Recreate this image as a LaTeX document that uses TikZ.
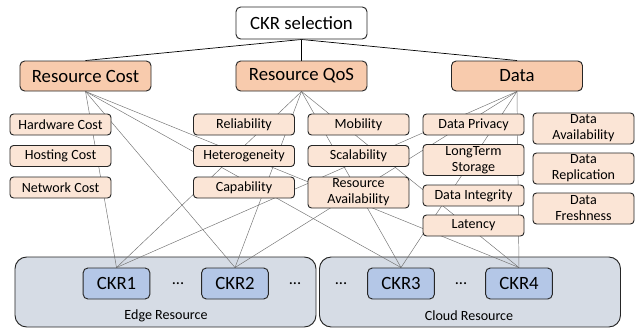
\documentclass[tikz,border=0pt]{standalone}
\usepackage{fontspec}
\setmainfont{Carlito}

\pgfdeclarelayer{back}
\pgfdeclarelayer{wires}
\pgfsetlayers{back,wires,main}

\definecolor{catfill}{RGB}{248,203,173}
\definecolor{subfill}{RGB}{251,229,214}
\definecolor{resfill}{RGB}{214,220,229}
\definecolor{ckrfill}{RGB}{180,199,231}

\tikzset{
  selbox/.style={draw=black!85, line width=0.8pt, fill=white, rounded corners=4pt, minimum width=3.93cm, minimum height=0.96cm, inner sep=0pt, font=\fontsize{16}{18}\selectfont},
  catbox/.style={draw=black!85, line width=0.8pt, fill=catfill, rounded corners=4pt, minimum width=3.93cm, minimum height=0.9cm, inner sep=0pt, font=\fontsize{16}{18}\selectfont},
  subbox/.style={draw=black!85, line width=0.8pt, fill=subfill, rounded corners=3pt, minimum width=3.03cm, minimum height=0.63cm, inner sep=0pt, align=center, font=\fontsize{12}{13.6}\selectfont},
  tallbox/.style={subbox, minimum height=0.93cm},
  resbox/.style={draw=black!85, line width=0.8pt, fill=resfill, rounded corners=10pt, minimum width=9.03cm, minimum height=2.1cm, inner sep=0pt},
  ckrbox/.style={draw=black!85, line width=0.8pt, fill=ckrfill, rounded corners=4pt, minimum width=2.0cm, minimum height=0.93cm, inner sep=0pt, font=\fontsize{16}{18}\selectfont},
  wire/.style={draw=black!55, line width=0.4pt},
  topwire/.style={draw=black, line width=0.6pt}
}

\begin{document}
\begin{tikzpicture}[x=0.03cm, y=-0.03cm]
  \useasboundingbox (0,0) rectangle (639,332);

  % Root and the three criteria groups
  \node[selbox] (sel) at (301.5,23) {CKR selection};
  \node[catbox] (cost) at (85.5,76) {Resource Cost};
  \node[catbox] (qos) at (301.5,76) {Resource QoS};
  \node[catbox] (data) at (517,76) {Data};

  % Cost criteria
  \node[subbox] (hw) at (60.5,124.5) {Hardware Cost};
  \node[subbox] (host) at (60.5,156) {Hosting Cost};
  \node[subbox] (net) at (60.5,187.5) {Network Cost};

  % QoS criteria
  \node[subbox] (rel) at (244,124.5) {Reliability};
  \node[subbox] (het) at (244,156) {Heterogeneity};
  \node[subbox] (cap) at (244,187.5) {Capability};
  \node[subbox] (mob) at (358.5,124.5) {Mobility};
  \node[subbox] (scal) at (358.5,156) {Scalability};
  \node[tallbox] (ravail) at (358.5,192.5) {Resource\\Availability};

  % Data criteria
  \node[subbox] (priv) at (473.5,124.5) {Data Privacy};
  \node[tallbox] (lts) at (473.5,160) {LongTerm\\Storage};
  \node[subbox] (integ) at (473.5,195.5) {Data Integrity};
  \node[subbox] (lat) at (473.5,225.5) {Latency};
  \node[tallbox] (davail) at (583.5,128.5) {Data\\Availability};
  \node[tallbox] (drep) at (583.5,168.5) {Data\\Replication};
  \node[tallbox] (dfresh) at (583.5,208.5) {Data\\Freshness};

  % Resource pools
  \begin{pgfonlayer}{back}
    \node[resbox] (edge) at (165.5,292) {};
    \node[resbox] (cloud) at (470,292) {};
  \end{pgfonlayer}
  \node[font=\fontsize{12}{13}\selectfont] (edgelbl) at (166,316) {Edge Resource};
  \node[font=\fontsize{12}{13}\selectfont] (cloudlbl) at (469,316) {Cloud Resource};

  \node[ckrbox] (ckr1) at (116.5,283.5) {CKR1};
  \node[ckrbox] (ckr2) at (235,283.5) {CKR2};
  \node[ckrbox] (ckr3) at (401,283.5) {CKR3};
  \node[ckrbox] (ckr4) at (519,283.5) {CKR4};
  \node[font=\fontsize{14}{16}\selectfont] (dots1) at (178,284) {...};
  \node[font=\fontsize{14}{16}\selectfont] (dots2) at (295,284) {...};
  \node[font=\fontsize{14}{16}\selectfont] (dots3) at (341,284) {...};
  \node[font=\fontsize{14}{16}\selectfont] (dots4) at (461,284) {...};

  % Draw the links
  \begin{pgfonlayer}{wires}
    \foreach \c in {cost,qos,data}{
      \draw[topwire] (sel.south) -- (\c.north);
      \foreach \k in {1,...,4}
        \draw[wire] (\c.south) -- (ckr\k.north);
    }
  \end{pgfonlayer}
\end{tikzpicture}
\end{document}
